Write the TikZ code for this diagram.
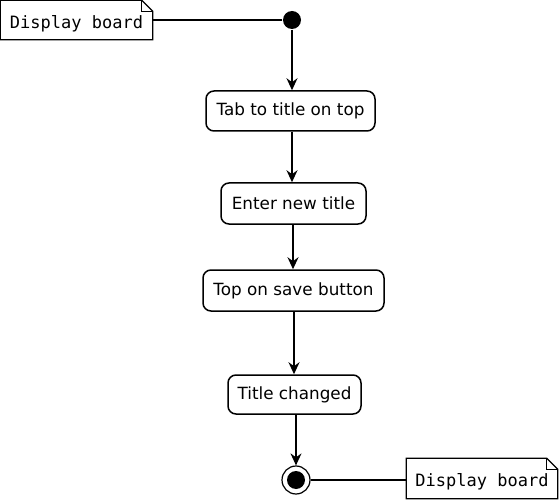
\documentclass[tikz,border=0pt]{standalone}
\usepackage{fontspec}
\setmainfont{DejaVu Sans}
\setmonofont{DejaVu Sans Mono}
\usetikzlibrary{arrows.meta}
\begin{document}
\begin{tikzpicture}[x=1pt,y=-1pt, line width=1.5pt,
 act/.style={draw, rounded corners=8pt, inner sep=0pt, font=\fontsize{16.8}{20}\selectfont},
 notebox/.style={inner sep=0pt, font=\fontsize{17}{20}\selectfont\ttfamily},
 notepath/.style={line width=1.2pt},
 flow/.style={-{Stealth[length=12pt,width=11pt]}}]
\useasboundingbox (0,0) rectangle (560,500);
% notes
\node[notebox, minimum width=151pt, minimum height=38pt] (n1) at (76.5,20) {\raisebox{-9pt}[0pt][0pt]{Display board}};
\node[notebox, minimum width=150pt, minimum height=39pt] (n2) at (482,478.5) {\raisebox{-8pt}[0pt][0pt]{Display board}};
\foreach \n in {n1,n2}{
 \draw[notepath] (\n.north west) -- ([xshift=-11pt]\n.north east) -- ([yshift=-11pt]\n.north east) -- (\n.south east) -- (\n.south west) -- cycle;
 \draw[line width=0.8pt] ([xshift=-11pt]\n.north east) |- ([yshift=-11pt]\n.north east);
}
% start / end
\node[circle, fill=black, minimum size=18pt, inner sep=0pt] (init) at (292,20) {};
\node[circle, draw, line width=1.2pt, minimum size=28pt, inner sep=0pt] (fin) at (296,480) {};
\node[circle, fill=black, minimum size=18pt, inner sep=0pt] (finin) at (296,480) {};
% activities
\node[act, minimum width=169pt, minimum height=40pt] (b1) at (290.5,111) {Tab to title on top};
\node[act, minimum width=145pt, minimum height=41pt] (b2) at (293.5,203.5) {Enter new title};
\node[act, minimum width=181pt, minimum height=41pt] (b3) at (293.5,290.5) {Top on save button};
\node[act, minimum width=133pt, minimum height=39pt] (b4) at (294.5,394.5) {Title changed};
% connectors
\draw (init.west) -- (init.west -| n1.east);
\draw (fin.east) -- (fin.east -| n2.west);
\draw[flow] (init.south) -- (init.south |- b1.north);
\draw[flow] (b1.south -| 292,0) -- (292,0 |- b2.north);
\draw[flow] (b2.south -| 293,0) -- (293,0 |- b3.north);
\draw[flow] (b3.south -| 294,0) -- (294,0 |- b4.north);
\draw[flow] (b4.south -| 296,0) -- (fin.north);
\end{tikzpicture}
\end{document}
